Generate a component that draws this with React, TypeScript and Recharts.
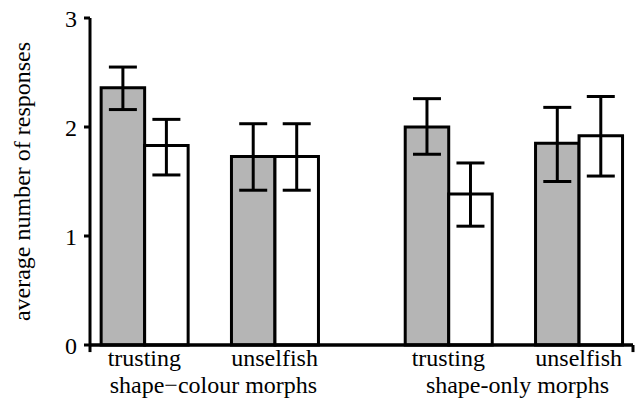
import React from 'react';
import { BarChart, Bar, XAxis, YAxis, ErrorBar, ReferenceLine } from 'recharts';

const morphs = ['shape\u2212colour morphs', 'shape-only morphs'];
const traits = ['trusting', 'unselfish'];

// grey = first bar of each pair, white = second
const greyMeans = [2.36, 1.73, 2.0, 1.85];
const greyLow = [2.16, 1.42, 1.75, 1.5];
const greyHigh = [2.55, 2.03, 2.26, 2.18];

const whiteMeans = [1.83, 1.73, 1.385, 1.92];
const whiteLow = [1.56, 1.42, 1.09, 1.55];
const whiteHigh = [2.07, 2.03, 1.67, 2.28];

const yTicks = [0, 1, 2, 3];

// layout in bar-width units: traits 3 apart, morph groups 7 apart
const TRAIT_STEP = 3;
const MORPH_STEP = 7;

const rows = morphs.flatMap((morph, mi) =>
  traits.map((trait, ti) => {
    const i = mi * traits.length + ti;
    return {
      slot: mi * MORPH_STEP + ti * TRAIT_STEP + 1,
      trait,
      morph,
      grey: greyMeans[i],
      greyErr: [greyMeans[i] - greyLow[i], greyHigh[i] - greyMeans[i]],
      white: whiteMeans[i],
      whiteErr: [whiteMeans[i] - whiteLow[i], whiteHigh[i] - whiteMeans[i]],
    };
  })
);

const xDomain = [-0.25, 12.25];
const yDomain = [0, 3];
const traitTicks = rows.map(r => r.slot);
const morphTicks = morphs.map(m => {
  const s = rows.filter(r => r.morph === m).map(r => r.slot);
  return (Math.min(...s) + Math.max(...s)) / 2;
});

const serif = 'Liberation Serif, Times New Roman, serif';
const font = { fontFamily: serif, fontSize: 24, fill: '#000' };
const axisStroke = { stroke: '#000', strokeWidth: 3 };
// short overhang of the axes below the baseline, in y units (~7px)
const OVERHANG = -0.065;

const App: React.FC = () => {
  return (
    <div style={{ position: 'absolute', left: 0, top: 0, width: 640, height: 405, background: '#fff', fontFamily: serif }}>
      <BarChart
        width={640}
        height={405}
        data={rows}
        margin={{ top: 18, right: 7, left: 0, bottom: 0 }}
        barGap={0}
        barSize={43.5}
      >
        <XAxis
          xAxisId="c"
          type="number"
          dataKey="slot"
          domain={xDomain}
          ticks={morphTicks}
          interval={0}
          height={33}
          axisLine={false}
          tickLine={false}
          tickSize={0}
          tickMargin={4}
          tick={{ ...font, dx: 4 }}
          tickFormatter={(v: number) => morphs[morphTicks.indexOf(v)] ?? ''}
        />
        <XAxis
          xAxisId="b"
          type="number"
          dataKey="slot"
          domain={xDomain}
          ticks={traitTicks}
          interval={0}
          height={27}
          axisLine={axisStroke}
          tickLine={false}
          tickSize={0}
          tickMargin={4}
          tick={font}
          tickFormatter={(v: number) => rows.find(r => r.slot === v)?.trait ?? ''}
        />
        <YAxis
          type="number"
          domain={yDomain}
          ticks={yTicks}
          interval={0}
          width={90}
          axisLine={axisStroke}
          tickLine={axisStroke}
          tickSize={6}
          tickMargin={7}
          tick={font}
          label={{
            value: 'average number of responses',
            angle: -90,
            position: 'center',
            dx: -24,
            style: { ...font, textAnchor: 'middle' },
          }}
        />
        <Bar xAxisId="b" dataKey="grey" fill="#b5b5b5" stroke="#000" strokeWidth={3} isAnimationActive={false}>
          <ErrorBar dataKey="greyErr" width={14} stroke="#000" strokeWidth={3} direction="y" isAnimationActive={false} />
        </Bar>
        <Bar xAxisId="b" dataKey="white" fill="#fff" stroke="#000" strokeWidth={3} isAnimationActive={false}>
          <ErrorBar dataKey="whiteErr" width={14} stroke="#000" strokeWidth={3} direction="y" isAnimationActive={false} />
        </Bar>
        <ReferenceLine xAxisId="b" y={yDomain[0]} ifOverflow="visible" {...axisStroke} />
        <ReferenceLine
          xAxisId="b"
          segment={[{ x: xDomain[0], y: yDomain[0] }, { x: xDomain[0], y: OVERHANG }]}
          ifOverflow="visible"
          {...axisStroke}
        />
        <ReferenceLine
          xAxisId="b"
          segment={[{ x: xDomain[1], y: yDomain[0] }, { x: xDomain[1], y: OVERHANG }]}
          ifOverflow="visible"
          {...axisStroke}
        />
      </BarChart>
    </div>
  );
};

export default App;
